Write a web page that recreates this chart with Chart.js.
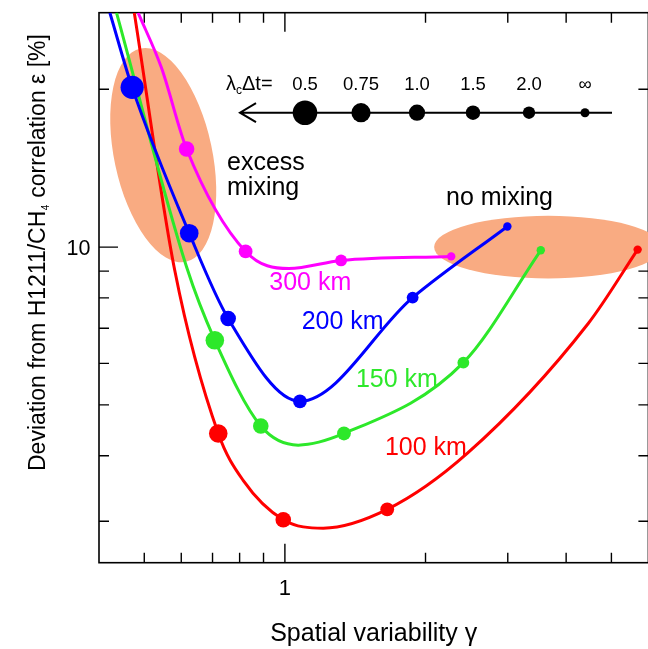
<!DOCTYPE html>
<html>
<head>
<meta charset="utf-8">
<script src="https://cdn.jsdelivr.net/npm/chart.js@4"></script>
<style>
  html,body{margin:0;padding:0;background:#fff;overflow:hidden;}
  #wrap{position:absolute;left:0;top:0;width:660px;height:649px;}
</style>
</head>
<body>
<div id="wrap"><canvas id="chart" width="660" height="649"></canvas></div>
<script>
// lambda_c * dt values shown by marker size
const lamLabels = ['0.5', '0.75', '1.0', '1.5', '2.0', '\u221e'];

// 100 km curve (gamma, epsilon %), lam = marker label or null for plain curve point
const gamma100 = [0.476, 0.581, 0.720, 0.814, 0.992, 1.208, 1.656, 2.456, 4.46, 5.69];
const eps100   = [28, 9.03, 4.41, 3.59, 3.02, 2.91, 3.16, 4.04, 7.15, 9.89];
const lam100   = [null, null, '0.75', null, '1.0', null, '1.5', null, null, '\u221e'];

// 150 km
const gamma150 = [0.436, 0.616, 0.708, 0.888, 1.068, 1.338, 2.41, 3.53];
const eps150   = [28, 9.16, 6.64, 4.556, 4.19, 4.41, 6.02, 9.86];
const lam150   = [null, null, '0.75', '1.0', null, '1.5', '2.0', '\u221e'];

// 200 km
const gamma200 = [0.422, 0.471, 0.624, 0.756, 1.077, 1.877, 2.994];
const eps200   = [28, 20.17, 10.63, 7.31, 5.08, 8.01, 10.95];
const lam200   = [null, '0.5', '0.75', '1.0', '1.5', '2.0', '\u221e'];

// 300 km
const gamma300 = [0.485, 0.544, 0.616, 0.824, 1.02, 1.319, 2.27];
const eps300   = [28, 22.0, 15.39, 9.81, 9.10, 9.43, 9.60];
const lam300   = [null, null, '1.0', '1.5', null, '2.0', '\u221e'];

// axis ticks
const xTicks = [0.5, 0.6, 0.7, 0.8, 0.9, 1, 2, 3, 4, 5];
const yTicks = [3, 4, 5, 6, 7, 8, 9, 10, 20];

// shaded regions (centre in data units)
const regionNames = ['excess mixing', 'no mixing'];
const regionGamma = [0.549, 3.66];
const regionEps   = [14.98, 10.0];

// styles
const markerR = {'0.5': 11.6, '0.75': 9.3, '1.0': 7.8, '1.5': 6.9, '2.0': 5.9, '\u221e': 4.2};
const regionShape = [[49, 109, -12], [114, 31.3, 0]]; // rx, ry, rotation deg
const FONT = '"Liberation Sans", Arial, Helvetica, sans-serif';

const series = [
  {name: '300 km', color: '#ff00ff', g: gamma300, e: eps300, l: lam300, lab: [0.926, 8.30]},
  {name: '200 km', color: '#0000ff', g: gamma200, e: eps200, l: lam200, lab: [1.086, 6.99]},
  {name: '150 km', color: '#2de82a', g: gamma150, e: eps150, l: lam150, lab: [1.419, 5.41]},
  {name: '100 km', color: '#ff0000', g: gamma100, e: eps100, l: lam100, lab: [1.637, 4.01]},
];

const datasets = series.map(s => ({
  type: 'line',
  label: s.name,
  data: s.g.map((g, i) => ({x: g, y: s.e[i]})),
  borderColor: s.color,
  backgroundColor: s.color,
  pointBackgroundColor: s.color,
  borderWidth: 3,
  cubicInterpolationMode: 'monotone',
  pointRadius: s.l.map(l => l ? markerR[l] : 0),
  pointHoverRadius: s.l.map(l => l ? markerR[l] : 0),
  pointBorderWidth: 0,
  fill: false,
  clip: 0
}));

const framePlugin = {
  id: 'frame',
  beforeDatasetsDraw(chart) {
    const {ctx, chartArea: a} = chart;
    const xs = chart.scales.x, ys = chart.scales.y;
    ctx.save();
    ctx.strokeStyle = '#000';
    ctx.lineWidth = 1.6;
    ctx.strokeRect(a.left, a.top, a.right - a.left, a.bottom - a.top);
    ctx.lineWidth = 1.4;
    ctx.beginPath();
    for (const v of xTicks) {
      const px = xs.getPixelForValue(v);
      const len = v === 1 ? 19 : 10;
      ctx.moveTo(px, a.bottom); ctx.lineTo(px, a.bottom - len);
      ctx.moveTo(px, a.top); ctx.lineTo(px, a.top + len);
    }
    for (const v of yTicks) {
      const py = ys.getPixelForValue(v);
      const len = v === 10 ? 19 : 10;
      ctx.moveTo(a.left, py); ctx.lineTo(a.left + len, py);
      ctx.moveTo(a.right, py); ctx.lineTo(a.right - len, py);
    }
    ctx.stroke();
    // shaded regions
    ctx.fillStyle = '#f9ab82';
    regionGamma.forEach((g, i) => {
      const [rx, ry, rot] = regionShape[i];
      ctx.beginPath();
      ctx.ellipse(xs.getPixelForValue(g), ys.getPixelForValue(regionEps[i]), rx, ry, rot * Math.PI / 180, 0, Math.PI * 2);
      ctx.fill();
    });
    ctx.restore();
  },
  afterDatasetsDraw(chart) {
    const {ctx, chartArea: a} = chart;
    const xs = chart.scales.x, ys = chart.scales.y;
    ctx.save();
    ctx.textBaseline = 'alphabetic';
    // curve labels
    ctx.font = '25px ' + FONT;
    ctx.textAlign = 'left';
    for (const s of series) {
      ctx.fillStyle = s.color;
      ctx.fillText(s.name, xs.getPixelForValue(s.lab[0]), ys.getPixelForValue(s.lab[1]));
    }
    ctx.fillStyle = '#000';
    ctx.fillText('excess', 227, 170);
    ctx.fillText('mixing', 227, 195);
    ctx.fillText('no mixing', 446, 205);

    // lambda legend
    const ly = 112.7, lx0 = 305, step = 56;
    ctx.strokeStyle = '#000';
    ctx.lineWidth = 2;
    ctx.beginPath();
    ctx.moveTo(240, ly); ctx.lineTo(612, ly);
    ctx.moveTo(256, ly - 9.5); ctx.lineTo(240, ly); ctx.lineTo(256, ly + 9.5);
    ctx.stroke();
    ctx.font = '18.5px ' + FONT;
    ctx.textAlign = 'center';
    lamLabels.forEach((lab, i) => {
      const px = lx0 + i * step;
      ctx.beginPath();
      ctx.arc(px, ly, markerR[lab] + (i === 0 ? 0.7 : 0.3), 0, Math.PI * 2);
      ctx.fill();
      ctx.fillText(lab, px, 89.5);
    });
    ctx.textAlign = 'left';
    let tx = 226;
    ctx.font = '20px ' + FONT;
    ctx.fillText('\u03bb', tx, 89.5); tx += ctx.measureText('\u03bb').width;
    ctx.font = '12px ' + FONT;
    ctx.fillText('c', tx, 94); tx += ctx.measureText('c').width;
    ctx.font = '20px ' + FONT;
    ctx.fillText('\u0394t=', tx, 89.5);

    // tick labels
    ctx.font = '22px ' + FONT;
    ctx.textAlign = 'center';
    ctx.fillText('1', xs.getPixelForValue(1), 594.5);
    ctx.font = '21.5px ' + FONT;
    ctx.textAlign = 'right';
    ctx.fillText('10', 90.5, ys.getPixelForValue(10) + 7.5);

    // axis titles
    ctx.font = '25px ' + FONT;
    ctx.textAlign = 'center';
    ctx.fillText('Spatial variability \u03b3', (a.left + a.right) / 2, 641);

    ctx.translate(45, 471);
    ctx.rotate(-Math.PI / 2);
    ctx.textAlign = 'left';
    ctx.font = '23px ' + FONT;
    let t = 'Deviation from H1211/CH';
    ctx.fillText(t, 0, 0);
    let w = ctx.measureText(t).width;
    ctx.font = '10px ' + FONT;
    ctx.fillText('4', w + 0.5, 4);
    w += ctx.measureText('4').width + 1;
    ctx.font = '23px ' + FONT;
    ctx.fillText(' correlation \u03b5 [%]', w, 0);
    ctx.restore();
  }
};

new Chart(document.getElementById('chart'), {
  data: {datasets},
  options: {
    responsive: false,
    animation: false,
    devicePixelRatio: 1,
    events: [],
    layout: {padding: {left: 0, top: 12.7, right: 11.6, bottom: 0}},
    plugins: {legend: {display: false}, tooltip: {enabled: false}},
    scales: {
      x: {
        type: 'logarithmic', position: 'bottom', min: 0.4, max: 6,
        afterBuildTicks: s => { s.ticks = xTicks.map(v => ({value: v})); },
        afterFit: s => { s.height = 86.3; },
        ticks: {display: false},
        grid: {display: false},
        border: {display: false}
      },
      y: {
        type: 'logarithmic', position: 'left', min: 2.5, max: 28,
        afterBuildTicks: s => { s.ticks = yTicks.map(v => ({value: v})); },
        afterFit: s => { s.width = 99; },
        ticks: {display: false},
        grid: {display: false},
        border: {display: false}
      }
    }
  },
  plugins: [framePlugin]
});
</script>
</body>
</html>
